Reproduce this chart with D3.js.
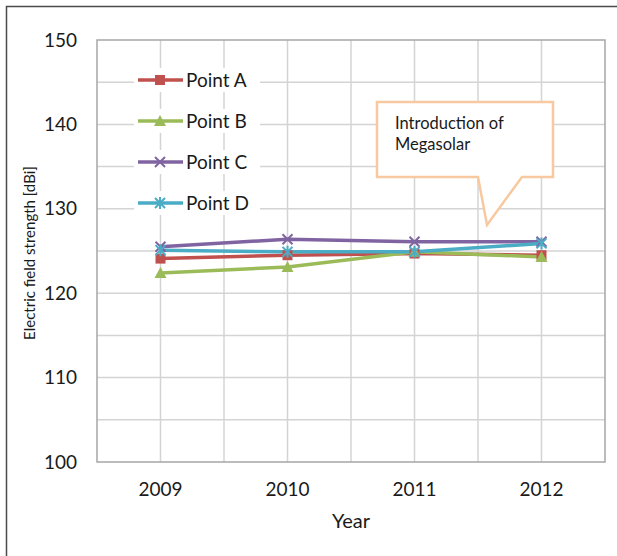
<!DOCTYPE html>
<html>
<head>
<meta charset="utf-8">
<script src="https://cdn.jsdelivr.net/npm/d3@7/dist/d3.min.js"></script>
<style>
  html, body { margin: 0; padding: 0; background: #fff; }
  svg { display: block; font-family: Lato, "Open Sans", sans-serif; }
</style>
</head>
<body>
<svg id="chart" width="617" height="556"></svg>
<script>
// Yearly electric field strength readings at four measuring points
const years = ["2009", "2010", "2011", "2012"];
const pointA = [124.1, 124.5, 124.7, 124.5];
const pointB = [122.4, 123.1, 124.9, 124.3];
const pointC = [125.5, 126.4, 126.1, 126.1];
const pointD = [125.1, 124.9, 124.9, 125.9];
const seriesNames = ["Point A", "Point B", "Point C", "Point D"];
const yTicks = [100, 110, 120, 130, 140, 150];
const calloutLines = ["Introduction of", "Megasolar"];

const series = [
  { name: seriesNames[0], values: pointA, color: "#c0504d", marker: "square" },
  { name: seriesNames[1], values: pointB, color: "#9bbb59", marker: "triangle" },
  { name: seriesNames[2], values: pointC, color: "#8064a2", marker: "cross" },
  { name: seriesNames[3], values: pointD, color: "#4bacc6", marker: "star" }
];

const svg = d3.select("#chart");
const plotL = 97, plotR = 605, plotT = 40, plotB = 462;
const ink = "#1a1a1a";

// outer frame
svg.append("path")
  .attr("d", "M6.5,560 L6.5,6.5 L620,6.5")
  .attr("fill", "none").attr("stroke", "#4a4a4a").attr("stroke-width", 1.5);

const x = d3.scaleBand().domain(years).range([plotL, plotR]);
const y = d3.scaleLinear().domain([100, 150]).range([plotB, plotT]);

// gridlines: horizontal every 5, vertical at band edges and centres
const g = svg.append("g");
g.selectAll("line.h").data(d3.range(105, 150, 5)).join("line")
  .attr("x1", plotL).attr("x2", plotR)
  .attr("y1", d => y(d)).attr("y2", d => y(d))
  .attr("stroke", "#d4d4d4").attr("stroke-width", 1.5);
const vx = [];
years.forEach(yr => { vx.push(x(yr)); vx.push(x(yr) + x.bandwidth() / 2); });
g.selectAll("line.v").data(vx.slice(1)).join("line")
  .attr("x1", d => d).attr("x2", d => d)
  .attr("y1", plotT).attr("y2", plotB)
  .attr("stroke", "#d4d4d4").attr("stroke-width", 1.5);
g.append("rect")
  .attr("x", plotL).attr("y", plotT).attr("width", plotR - plotL).attr("height", plotB - plotT)
  .attr("fill", "none").attr("stroke", "#a6a6a6").attr("stroke-width", 1.5);

// axes
const yAxis = svg.append("g").attr("transform", `translate(${plotL},0)`)
  .call(d3.axisLeft(y).tickValues(yTicks).tickSize(0).tickPadding(20));
yAxis.select(".domain").remove();
yAxis.selectAll("text").attr("font-size", 19).attr("fill", ink).attr("font-family", "Lato, sans-serif");

const xAxis = svg.append("g").attr("transform", `translate(0,${plotB})`)
  .call(d3.axisBottom(x).tickSize(0).tickPadding(21));
xAxis.select(".domain").remove();
xAxis.selectAll("text").attr("font-size", 19).attr("fill", ink).attr("font-family", "Lato, sans-serif");

svg.append("text").attr("x", 351).attr("y", 528).attr("text-anchor", "middle")
  .attr("font-size", 20).attr("fill", ink).text("Year");
svg.append("text")
  .attr("transform", "translate(35,253) rotate(-90)")
  .attr("text-anchor", "middle").attr("font-size", 15).attr("fill", ink)
  .text("Electric field strength [dBi]");

// callout box with pointer
const cb = { x0: 377, y0: 102, x1: 553, y1: 177, t0: 478, t1: 522, tx: 487, ty: 225 };
svg.append("path")
  .attr("d", `M${cb.x0},${cb.y0} L${cb.x1},${cb.y0} L${cb.x1},${cb.y1} L${cb.t1},${cb.y1} L${cb.tx},${cb.ty} L${cb.t0},${cb.y1} L${cb.x0},${cb.y1} Z`)
  .attr("fill", "#fff").attr("stroke", "#f8c9a0").attr("stroke-width", 2.5);
svg.append("g").selectAll("text").data(calloutLines).join("text")
  .attr("x", 395).attr("y", (d, i) => 129 + i * 21)
  .attr("font-size", 16.5).attr("fill", ink).text(d => d);

// marker drawing
function drawMarker(sel, kind, color) {
  if (kind === "square") {
    sel.append("rect").attr("x", -5).attr("y", -5).attr("width", 10).attr("height", 10).attr("fill", color);
  } else if (kind === "triangle") {
    sel.append("path").attr("d", "M0,-6 L6,5 L-6,5 Z").attr("fill", color);
  } else if (kind === "cross") {
    sel.append("path").attr("d", "M-5,-5 L5,5 M-5,5 L5,-5").attr("stroke", color).attr("stroke-width", 2);
  } else {
    sel.append("path").attr("d", "M-5,-5 L5,5 M-5,5 L5,-5 M0,-6 L0,6").attr("stroke", color).attr("stroke-width", 2);
  }
}

const line = d3.line().x((d, i) => x(years[i]) + x.bandwidth() / 2).y(d => y(d));
series.forEach(s => {
  svg.append("path").datum(s.values).attr("d", line)
    .attr("fill", "none").attr("stroke", s.color).attr("stroke-width", 3.5)
    .attr("stroke-linejoin", "round");
});
series.forEach(s => {
  s.values.forEach((v, i) => {
    const m = svg.append("g").attr("transform", `translate(${x(years[i]) + x.bandwidth() / 2},${y(v)})`);
    drawMarker(m, s.marker, s.color);
  });
});

// legend
const legend = svg.append("g");
series.forEach((s, i) => {
  const ly = 80 + i * 41;
  const lg = legend.append("g").attr("transform", `translate(0,${ly})`);
  lg.append("rect").attr("x", 134).attr("y", -12).attr("width", 126).attr("height", 24).attr("fill", "#fff");
  lg.append("line").attr("x1", 138).attr("x2", 183).attr("y1", 0).attr("y2", 0)
    .attr("stroke", s.color).attr("stroke-width", 3.5);
  const m = lg.append("g").attr("transform", "translate(160,0)");
  drawMarker(m, s.marker, s.color);
  lg.append("text").attr("x", 186).attr("y", 6.5).attr("font-size", 19).attr("fill", ink).text(s.name);
});
</script>
</body>
</html>
